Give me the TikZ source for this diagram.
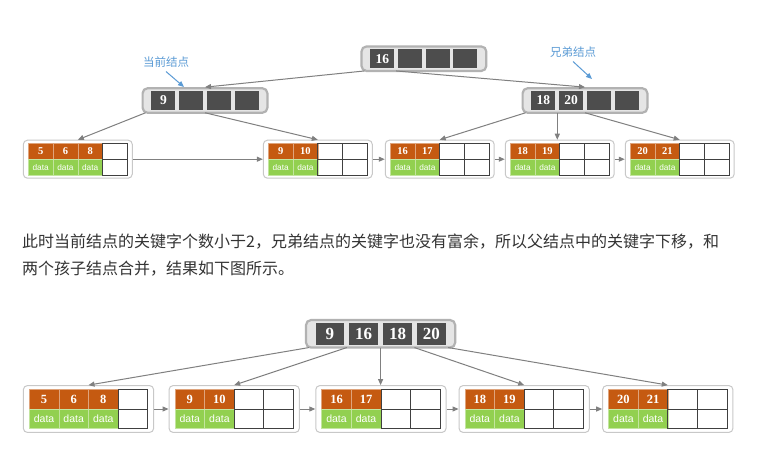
\documentclass[tikz,border=0pt]{standalone}
\usepackage{fontspec}
\setmainfont{Liberation Serif}
\newfontfamily\cjkfont{Noto Sans CJK SC}
\newfontfamily\datafont{Liberation Sans}
\usetikzlibrary{positioning,arrows.meta}
\definecolor{keyred}{RGB}{197,90,17}
\definecolor{datagreen}{RGB}{146,208,80}
\definecolor{idxdark}{RGB}{77,77,77}
\definecolor{linkgray}{RGB}{128,128,128}
\definecolor{tipblue}{RGB}{91,155,213}
\definecolor{boxgray}{RGB}{200,200,200}
\definecolor{textgray}{RGB}{51,51,51}

% leaf: name, centre, cell width, cell height, keys, key size, data size
\newcommand{\leafnode}[7]{%
  \node[leaf, minimum width={4.4*#3}, minimum height={2.4*#4}] (#1) at (#2) {};
  \begin{scope}[shift={(#1.center)}]
    \foreach \k [count=\i] in {#5} {
      \node[keycell, minimum width=#3, minimum height=#4, font=\bfseries\fontsize{#6}{#6}\selectfont] at ({(\i-2.5)*#3},{-#4/2}) {\k};
      \node[datacell, minimum width=#3, minimum height=#4, font=\datafont\fontsize{#7}{#7}\selectfont] at ({(\i-2.5)*#3},{#4/2}) {data};
      \xdef\nkeys{\i}
    }
    \draw[cellline] ({(\nkeys-2)*#3},{-#4}) rectangle ({2*#3},{#4});
    \draw[cellline] ({(\nkeys-2)*#3},0) -- ({2*#3},0);
    \foreach \c in {\nkeys,...,3} \draw[cellline] ({(\c-2)*#3},{-#4}) -- ({(\c-2)*#3},{#4});
  \end{scope}}

% index node: name, centre, pitch, cell width, cell height, keys, key size
\newcommand{\indexnode}[7]{%
  \node[idx, minimum width={4*#3+14}, minimum height={#5+5.5}] (#1) at (#2) {};
  \begin{scope}[shift={(#1.center)}]
    \foreach \k [count=\i] in {#6}
      \node[idxcell, minimum width=#4, minimum height=#5, font=\bfseries\fontsize{#7}{#7}\selectfont] at ({(\i-2.5)*#3},0) {\k};
    \coordinate (#1-p0) at ({-2*#3-4},{#5/2+2.75});
    \foreach \j in {1,...,4}
      \coordinate (#1-p\j) at ({(\j-2)*#3},{#5/2+2.75});
  \end{scope}}

\begin{document}
\begin{tikzpicture}[x=1pt, y=-1pt,
  leaf/.style = {draw=boxgray, line width=1pt, rounded corners=4pt, fill=white, inner sep=0pt},
  keycell/.style = {fill=keyred, draw=keyred!55!white, line width=0.5pt, text=white, inner sep=0pt},
  datacell/.style = {fill=datagreen, draw=datagreen!55!white, line width=0.5pt, text=white, inner sep=0pt},
  cellline/.style = {draw=black!75, line width=0.8pt},
  idx/.style = {draw=black!30, line width=2.2pt, rounded corners=5pt, fill=black!10, inner sep=0pt},
  idxcell/.style = {fill=idxdark, text=white, inner sep=0pt},
  link/.style = {draw=linkgray, line width=1pt, -{Triangle[length=6pt,width=5pt]}},
  pointer/.style = {draw=tipblue, line width=1pt, -{Triangle[length=6pt,width=5pt]}},
  tip/.style = {text=tipblue, font=\cjkfont\fontsize{11.5}{12}\selectfont, inner sep=0pt},
  note/.style = {text=textgray, font=\cjkfont\fontsize{16}{16}\selectfont, inner sep=0pt, anchor=base west}]
\path[fill=white] (0,0) rectangle (761,451);

% before merging
\indexnode{r}{423.9,58.7}{27.7}{24}{19}{16,{},{},{}}{13.5}
\indexnode{il}{205,100.5}{27.7}{24}{19}{9,{},{},{}}{13.5}
\indexnode{ir}{585,100.5}{27.7}{24}{19}{18,20,{},{}}{13.5}
\leafnode{a1}{77.8,159.2}{24.75}{15.8}{5,6,8}{10.5}{8.3}
\leafnode{a2}{317.8,159.2}{24.75}{15.8}{9,10}{10.5}{8.3}
\leafnode{a3}{439.7,159.2}{24.75}{15.8}{16,17}{10.5}{8.3}
\leafnode{a4}{559.7,159.2}{24.75}{15.8}{18,19}{10.5}{8.3}
\leafnode{a5}{679.7,159.2}{24.75}{15.8}{20,21}{10.5}{8.3}
\draw[link] (r-p0) -- (il.north);
\draw[link] (r-p1) -- (ir.north);
\draw[link] (il-p0) -- (a1.north);
\draw[link] (il-p2) -- (a2.north);
\draw[link] (ir-p0) -- (a3.north);
\draw[link] (ir-p1) -- (ir-p1 |- a4.north);
\draw[link] (ir-p2) -- (a5.north);
\node[tip] (cur) at (166,62) {当前结点};
\node[tip] (sib) at (573,52) {兄弟结点};
\coordinate (curtip) at (184,87);
\coordinate (sibtip) at (592,79);
\draw[pointer] ([yshift=-4pt]cur.south) -- (curtip);
\draw[pointer] ([yshift=-4pt]sib.south) -- (sibtip);

\node[note] (line1) at (22,247) {此时当前结点的关键字个数小于2，兄弟结点的关键字也没有富余，所以父结点中的关键字下移，和};
\node[note] (line2) at ([yshift=-27pt]line1.base west) {两个孩子结点合并，结果如下图所示。};

% after merging
\indexnode{m}{380.6,333.8}{33.8}{28.5}{22}{9,16,18,20}{17}
\leafnode{b1}{88.5,409}{29.6}{19.5}{5,6,8}{12.5}{10.5}
\leafnode{b2}{234.2,409}{29.6}{19.5}{9,10}{12.5}{10.5}
\leafnode{b3}{380.9,409}{29.6}{19.5}{16,17}{12.5}{10.5}
\leafnode{b4}{524.2,409}{29.6}{19.5}{18,19}{12.5}{10.5}
\leafnode{b5}{667.8,409}{29.6}{19.5}{20,21}{12.5}{10.5}
\draw[link] (m-p0) -- (b1.north);
\draw[link] (m-p1) -- (b2.north);
\draw[link] (m-p2) -- (m-p2 |- b3.north);
\draw[link] (m-p3) -- (b4.north);
\draw[link] (m-p4) -- (b5.north);

\foreach \u/\v in {a1/a2,a2/a3,a3/a4,a4/a5,b1/b2,b2/b3,b3/b4,b4/b5}
  \draw[link] (\u) -- (\v);
\end{tikzpicture}
\end{document}
